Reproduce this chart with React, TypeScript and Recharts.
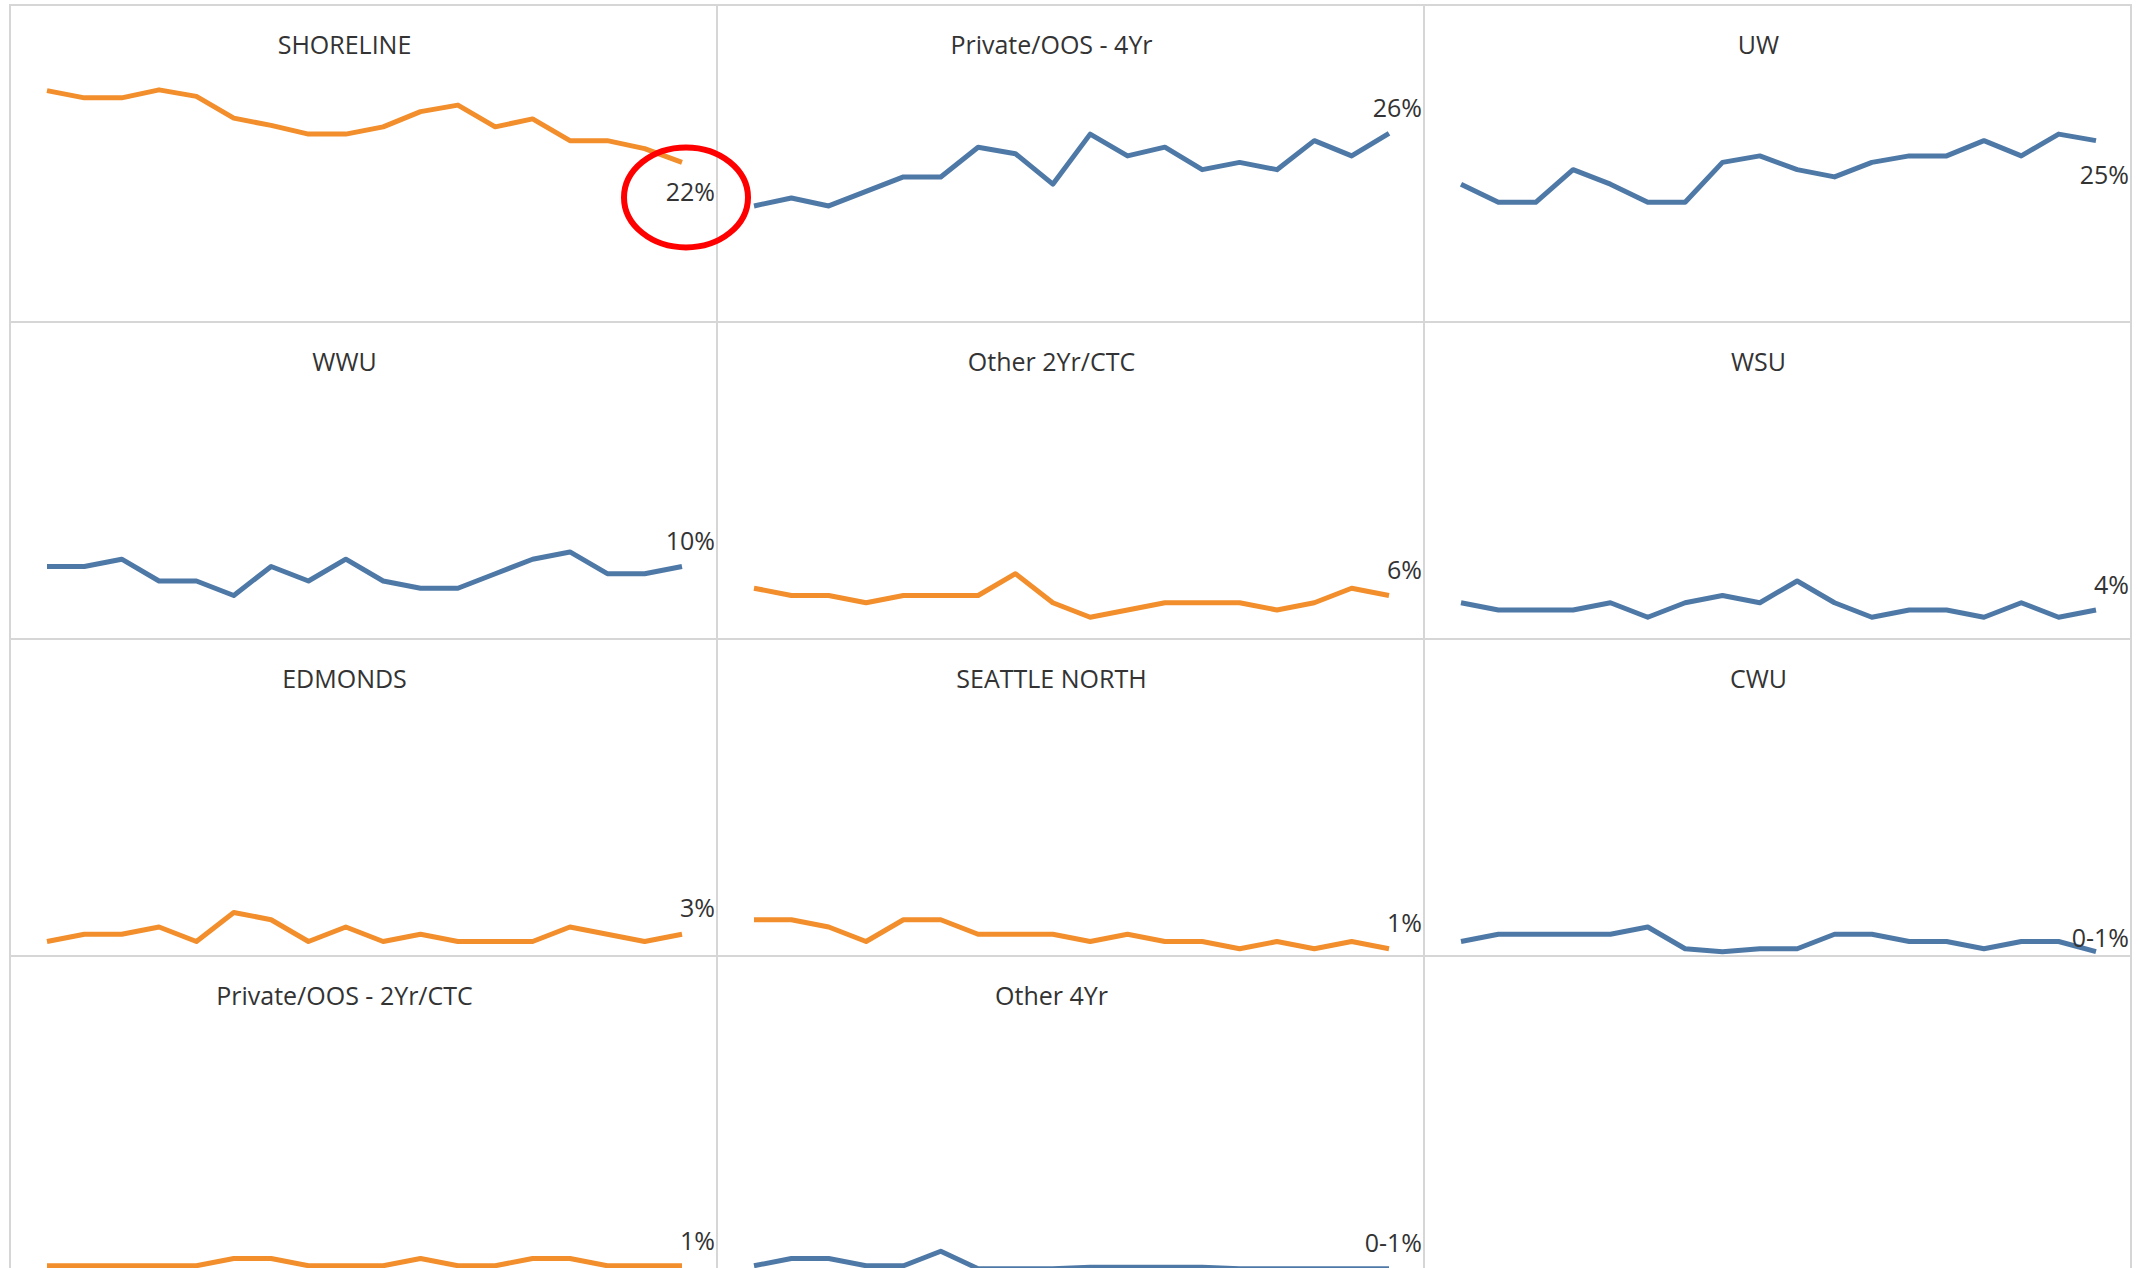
import { LineChart, Line, XAxis, YAxis } from "recharts";

// 18 periods, oldest to newest
const PERIODS = ["1", "2", "3", "4", "5", "6", "7", "8", "9", "10", "11", "12", "13", "14", "15", "16", "17", "18"];

// share of students (%) by destination
const SHORELINE = [31.9, 30.9, 30.9, 32.0, 31.1, 28.1, 27.1, 25.9, 25.9, 26.9, 29.0, 29.9, 26.9, 28.0, 25.0, 25.0, 23.9, 22.0];
const PRIVATE_OOS_4YR = [16.0, 17.1, 16.0, 18.0, 20.0, 20.0, 24.1, 23.2, 19.0, 25.9, 22.9, 24.1, 21.0, 22.0, 21.0, 25.0, 22.9, 26.0];
const UW = [19.0, 16.5, 16.5, 21.0, 19.0, 16.5, 16.5, 22.0, 22.9, 21.0, 20.0, 22.0, 22.9, 22.9, 25.0, 22.9, 25.9, 25.0];
const WWU = [10, 10, 11, 8, 8, 6, 10, 8, 11, 8, 7, 7, 9, 11, 12, 9, 9, 10];
const OTHER_2YR_CTC = [7, 6, 6, 5, 6, 6, 6, 9, 5, 3, 4, 5, 5, 5, 4, 5, 7, 6];
const WSU = [5, 4, 4, 4, 5, 3, 5, 6, 5, 8, 5, 3, 4, 4, 3, 5, 3, 4];
const EDMONDS = [2, 3, 3, 4, 2, 6, 5, 2, 4, 2, 3, 2, 2, 2, 4, 3, 2, 3];
const SEATTLE_NORTH = [5, 5, 4, 2, 5, 5, 3, 3, 3, 2, 3, 2, 2, 1, 2, 1, 2, 1];
const CWU = [2, 3, 3, 3, 3, 4, 1, 0.6, 1, 1, 3, 3, 2, 2, 1, 2, 2, 0.6];
const PRIVATE_OOS_2YR_CTC = [1, 1, 1, 1, 1, 2, 2, 1, 1, 1, 2, 1, 1, 2, 2, 1, 1, 1];
const OTHER_4YR = [1, 2, 2, 1, 1, 3, 0.6, 0.6, 0.6, 0.8, 0.8, 0.8, 0.8, 0.6, 0.6, 0.6, 0.6, 0.6];

const TITLES = [
    "SHORELINE", "Private/OOS - 4Yr", "UW",
    "WWU", "Other 2Yr/CTC", "WSU",
    "EDMONDS", "SEATTLE NORTH", "CWU",
    "Private/OOS - 2Yr/CTC", "Other 4Yr",
];
const END_LABELS = ["22%", "26%", "25%", "10%", "6%", "4%", "3%", "1%", "0-1%", "1%", "0-1%"];
const SERIES = [
    SHORELINE, PRIVATE_OOS_4YR, UW,
    WWU, OTHER_2YR_CTC, WSU,
    EDMONDS, SEATTLE_NORTH, CWU,
    PRIVATE_OOS_2YR_CTC, OTHER_4YR,
];

const ORANGE = "#f28e2b";
const BLUE = "#4e79a7";
const COLORS = [ORANGE, BLUE, BLUE, BLUE, ORANGE, BLUE, ORANGE, ORANGE, BLUE, ORANGE, BLUE];
// vertical offset of the end label from the last point
const LABEL_DY = [29, -26, 33, -26, -26, -26, -27, -27, -15, -26, -27];

const FONT = "'Open Sans', 'Noto Sans', sans-serif";
const COL_X = [10, 717, 1424];
const ROW_Y = [5, 322, 639, 956];
const PANEL_W = 707;
const PANEL_H = 317;
const GRID = "#d6d6d6";

type EndLabelProps = {
    x?: number;
    y?: number;
    index?: number;
    text: string;
    dy: number;
    circled: boolean;
};

const EndLabel = ({ x = 0, y = 0, index, text, dy, circled }: EndLabelProps) => {
    if (index !== PERIODS.length - 1) return null;
    return (
        <g>
            <text
                x={x + 33}
                y={y + dy}
                textAnchor="end"
                dominantBaseline="central"
                fontSize={25}
                fontFamily={FONT}
                fill="#333"
            >
                {text}
            </text>
            {circled && (
                <ellipse cx={x + 4} cy={y + 35} rx={62} ry={50} fill="none" stroke="#ff0000" strokeWidth={6} />
            )}
        </g>
    );
};

const SmallMultiple = ({ i }: { i: number }) => {
    const data = PERIODS.map((p, k) => ({ period: p, value: SERIES[i][k] }));
    const col = i % 3;
    const row = Math.floor(i / 3);
    return (
        <div
            style={{
                position: "absolute",
                left: COL_X[col],
                top: ROW_Y[row],
                width: PANEL_W,
                height: PANEL_H,
                zIndex: i === 0 ? 2 : 1,
            }}
        >
            <div
                style={{
                    position: "absolute",
                    top: 25,
                    left: 0,
                    right: 38,
                    textAlign: "center",
                    fontSize: 25,
                    lineHeight: "28px",
                    color: "#333",
                    fontFamily: FONT,
                }}
            >
                {TITLES[i]}
            </div>
            <LineChart
                width={PANEL_W}
                height={PANEL_H}
                data={data}
                margin={{ top: 0, right: 35, bottom: 0, left: 37 }}
            >
                <XAxis dataKey="period" hide />
                <YAxis hide domain={[0, 43.7]} />
                <Line
                    type="linear"
                    dataKey="value"
                    stroke={COLORS[i]}
                    strokeWidth={5}
                    strokeLinejoin="round"
                    dot={false}
                    isAnimationActive={false}
                    label={(props: { x?: number; y?: number; index?: number }) => (
                        <EndLabel
                            x={props.x}
                            y={props.y}
                            index={props.index}
                            text={END_LABELS[i]}
                            dy={LABEL_DY[i]}
                            circled={i === 0}
                        />
                    )}
                />
            </LineChart>
        </div>
    );
};

export default function App() {
    return (
        <div
            style={{
                position: "relative",
                width: 2138,
                height: 1268,
                overflow: "hidden",
                background: "#fff",
            }}
        >
            <style>{"body{margin:0} .recharts-surface{overflow:visible}"}</style>
            {COL_X.concat([2131]).map((x) => (
                <div
                    key={"v" + x}
                    style={{ position: "absolute", left: x - 1, top: ROW_Y[0] - 1, width: 2, height: 1300, background: GRID }}
                />
            ))}
            {ROW_Y.map((y) => (
                <div
                    key={"h" + y}
                    style={{ position: "absolute", left: COL_X[0] - 1, top: y - 1, width: 2131 - COL_X[0] + 2, height: 2, background: GRID }}
                />
            ))}
            {TITLES.map((_, i) => (
                <SmallMultiple key={i} i={i} />
            ))}
        </div>
    );
}
